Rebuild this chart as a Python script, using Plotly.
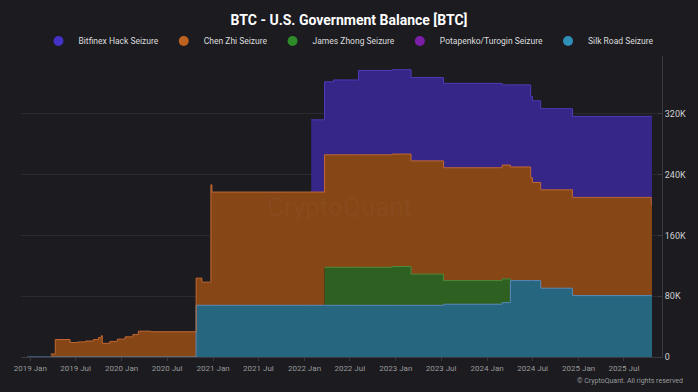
import plotly.graph_objects as go

dates = [
    "2018-12-20", "2019-03-24", "2019-04-11", "2019-06-09", "2019-07-10",
    "2019-08-10", "2019-09-10", "2019-10-01", "2019-10-12", "2019-10-16",
    "2019-11-15", "2019-12-15", "2020-01-15", "2020-02-15", "2020-03-08",
    "2020-04-27", "2020-10-25", "2020-11-17", "2020-12-23", "2020-12-27",
    "2022-01-28", "2022-03-22", "2022-04-27", "2022-08-05", "2022-12-18",
    "2023-03-03", "2023-07-11", "2024-03-01", "2024-04-03", "2024-06-23",
    "2024-06-30", "2024-08-02", "2024-12-07", "2025-10-18", "2025-10-21",
]

silk_road = [
    0, 0, 0, 0, 0,
    0, 0, 0, 0, 0,
    0, 0, 0, 0, 0,
    0, 68000, 68000, 68000, 68000,
    68000, 68000, 68000, 68000, 68000,
    68000, 69400, 71500, 100500, 100500,
    100500, 90500, 80800, 80800, 80800,
]
james_zhong = [
    0, 0, 0, 0, 0,
    0, 0, 0, 0, 0,
    0, 0, 0, 0, 0,
    0, 0, 0, 0, 0,
    0, 50000, 50000, 50000, 51000,
    41000, 31100, 31300, 0, 0,
    0, 0, 0, 0, 0,
]
chen_zhi = [
    0, 4000, 23000, 19000, 19800,
    21000, 23000, 25500, 28000, 18000,
    20500, 23500, 26500, 29500, 34000,
    33200, 35700, 30500, 158500, 149000,
    149000, 148000, 148000, 148000, 148000,
    149000, 148500, 149700, 149500, 135500,
    129100, 129500, 129200, 120200, 120200,
]
potapenko_turogin = [0] * len(dates)
bitfinex = [
    0, 0, 0, 0, 0,
    0, 0, 0, 0, 0,
    0, 0, 0, 0, 0,
    0, 0, 0, 0, 0,
    95000, 96000, 98500, 111000, 111000,
    109600, 111000, 105500, 108000, 107000,
    107400, 106700, 106600, 115600, 115600,
]

y_tick_vals = [0, 80000, 160000, 240000, 320000]
y_tick_text = ["0", "80K", "160K", "240K", "320K"]

# stacking order: bottom -> top
series = [
    dict(name="Silk Road Seizure", vals=silk_road, fill="rgb(38,102,126)",
         line="rgb(88,140,190)", legend="#2f8fb8", rank=5),
    dict(name="James Zhong Seizure", vals=james_zhong, fill="rgb(46,96,34)",
         line="rgb(78,140,58)", legend="#2e8b2a", rank=3),
    dict(name="Chen Zhi Seizure", vals=chen_zhi, fill="rgb(134,70,22)",
         line="rgb(196,104,52)", legend="#c0621f", rank=2),
    dict(name="Potapenko/Turogin Seizure", vals=potapenko_turogin, fill="rgb(110,30,150)",
         line="rgb(140,60,180)", legend="#7c1fa8", rank=4),
    dict(name="Bitfinex Hack Seizure", vals=bitfinex, fill="rgb(53,38,135)",
         line="rgb(78,60,185)", legend="#4432c4", rank=1),
]

fig = go.Figure()

# filled stacked areas
for s in series:
    fig.add_trace(go.Scatter(
        x=dates, y=s["vals"], name=s["name"], stackgroup="one", mode="lines",
        line=dict(shape="hv", width=0), fillcolor=s["fill"],
        showlegend=False, legendgroup=s["name"], hoverinfo="skip",
    ))

# boundary lines, only where each series holds coins
running = [0] * len(dates)
for s in series:
    running = [a + b for a, b in zip(running, s["vals"])]
    active = [v > 0 for v in s["vals"]]
    if s["name"] == "Silk Road Seizure":
        active = [True] * len(dates)
    shown = []
    for i, top in enumerate(running):
        prev_active = i > 0 and active[i - 1]
        shown.append(top if (active[i] or prev_active) else None)
    if any(v is not None for v in shown):
        fig.add_trace(go.Scatter(
            x=dates, y=shown, mode="lines", line=dict(shape="hv", width=1, color=s["line"]),
            connectgaps=False, showlegend=False, hoverinfo="skip",
        ))

# legend entries
for s in series:
    fig.add_trace(go.Scatter(
        x=[None], y=[None], mode="markers", name=s["name"], legendgroup=s["name"],
        legendrank=s["rank"], marker=dict(size=10, color=s["legend"], symbol="circle"),
    ))

bg = "#1b1b20"
fig.update_layout(
    width=698, height=392,
    paper_bgcolor=bg, plot_bgcolor=bg,
    margin=dict(l=21, r=36, t=56, b=35, autoexpand=False),
    font=dict(family="Roboto, sans-serif", color="#dddddd"),
    title=dict(
        text="<b>BTC - U.S. Government Balance [BTC]</b>",
        x=0.5, xanchor="center", y=1 - 20 / 392, yanchor="middle", yref="container",
        font=dict(size=14, color="#ffffff"),
    ),
    legend=dict(
        orientation="h", xref="container", yref="container",
        x=0.5, xanchor="center", y=1 - 41 / 392, yanchor="middle",
        font=dict(size=8.5, color="#dddddd"), bgcolor="rgba(0,0,0,0)",
        itemwidth=30, tracegroupgap=0,
    ),
    xaxis=dict(
        type="date", range=["2018-11-25", "2025-11-30"],
        dtick="M6", tick0="2019-01-01", tickformat="%Y %b",
        tickfont=dict(size=8, color="#9a9a9a"),
        showgrid=False, showline=True, linecolor="#3a3a40",
        ticks="outside", ticklen=3, tickcolor="#3a3a40",
        zeroline=False, automargin=False,
    ),
    yaxis=dict(
        side="right", range=[0, 396000],
        tickvals=y_tick_vals, ticktext=y_tick_text,
        tickfont=dict(size=9, color="#d0d0d0"),
        showgrid=True, gridcolor="#2a2a30", gridwidth=1,
        showline=True, linecolor="#3a3a40", zeroline=False,
        ticks="inside", ticklen=4, tickcolor="#3a3a40",
        automargin=False,
    ),
    annotations=[
        dict(text="CryptoQuant", x=(339 - 21) / 641, y=(357 - 207) / 301,
             xref="paper", yref="paper", xanchor="center", yanchor="middle",
             showarrow=False, font=dict(size=26, color="rgba(255,255,255,0.045)")),
        dict(text="© CryptoQuant. All rights reserved", x=(685 - 21) / 641,
             y=-(381 - 357) / 301, xref="paper", yref="paper",
             xanchor="right", yanchor="middle", showarrow=False,
             font=dict(size=7, color="#9a9a9a")),
    ],
)

fig.write_html(
    "out.html",
    config={"displayModeBar": False},
    post_script="document.body.style.margin='0';document.body.style.overflow='hidden';",
)
